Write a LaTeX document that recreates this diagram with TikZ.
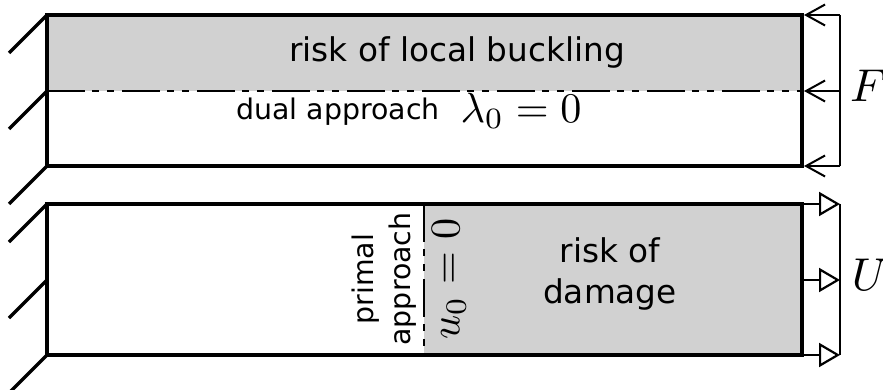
\documentclass[tikz,border=0pt]{standalone}
\usepackage{fontspec}
\setsansfont{DejaVu Sans}
\usetikzlibrary{arrows.meta}
\tikzset{
  x=1pt,y=-1pt,
  bar/.style={line width=3.4pt,line cap=rect},
  hatch/.style={line width=3.2pt},
  wire/.style={line width=1.8pt},
  openhead/.style={-{Straight Barb[length=19pt,width=21pt,line width=2pt]},shorten >=2pt},
  trihead/.style={-{Triangle[open,length=21pt,width=24pt,line width=2.2pt,fill=white]}},
  cutline/.style={line width=1.6pt,dash pattern=on 38pt off 7pt on 7pt off 8pt on 7pt off 8pt},
  label/.style={inner sep=0pt,font=\sffamily\fontsize{32.7}{41}\selectfont,align=center},
  small/.style={inner sep=0pt,font=\sffamily\fontsize{28.4}{37}\selectfont,align=center},
  mathlabel/.style={inner sep=0pt,transform shape,scale=4.22},
  biglabel/.style={inner sep=0pt,transform shape,scale=4.6},
}
\begin{document}
\begin{tikzpicture}
\useasboundingbox (0,0) rectangle (883,390);
\clip (0,0) rectangle (883,390);
% corners
\coordinate (TL) at (47,15); \coordinate (TM) at (47,91); \coordinate (TB) at (47,166);
\coordinate (TR) at (802,15); \coordinate (TRM) at (802,91); \coordinate (TRB) at (802,166);
\coordinate (BL) at (47,204); \coordinate (BM) at (47,280); \coordinate (BB) at (47,355);
\coordinate (BR) at (802,204); \coordinate (BRM) at (802,280); \coordinate (BRB) at (802,355);
\coordinate (ST) at (424,204); \coordinate (SB) at (424,355);
% fills
\fill[black!18] (TL) rectangle (TRM);
\fill[black!18] (ST) rectangle (BRB);
% cut lines
\draw[cutline] (TM) -- (TRM);
\draw[cutline] (ST) -- (SB);
% bars
\draw[bar] (TL) rectangle (TRB);
\draw[bar] (BL) rectangle (BRB);
% wall hatches
\foreach \p in {TL,TM,TB,BL,BM,BB}{
  \draw[hatch] (\p) -- ++(-38,38);
}
% force side
\coordinate (FT) at (840,15); \coordinate (FM) at (840,91); \coordinate (FB) at (840,166);
\draw[wire] (FT) -- (FB);
\draw[wire,openhead] (FT) -- (TR);
\draw[wire,openhead] (FM) -- (TRM);
\draw[wire,openhead] (FB) -- (TRB);
% displacement side
\coordinate (UT) at (840,204); \coordinate (UM) at (840,280); \coordinate (UB) at (840,355);
\draw[wire] (UT) -- (UB);
\draw[wire,trihead] (BR) -- (UT);
\draw[wire,trihead] (BRM) -- (UM);
\draw[wire,trihead] (BRB) -- (UB);
% labels
\node[label] (risktop) at (457,52) {risk of local buckling};
\node[small] (dual) at (338,112) {dual approach};
\node[mathlabel] (lam) at (521,111) {$\lambda_0=0$};
\node[biglabel] (F) at (868,86) {$F$};
\node[biglabel] (U) at (870,275) {$U$};
\node[label] (riskbot) at (610,274) {risk of\\damage};
\node[small,rotate=90] (primal) at (384,279) {primal\\approach};
\node[mathlabel,rotate=90] (u0) at (449,279) {$u_0=0$};
\end{tikzpicture}
\end{document}
